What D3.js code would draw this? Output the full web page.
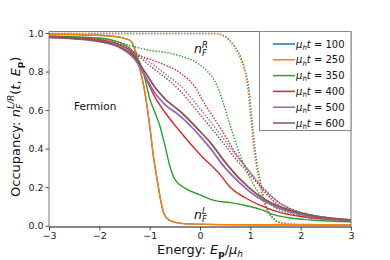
<!DOCTYPE html>
<html>
<head>
<meta charset="utf-8">
<script src="https://cdn.jsdelivr.net/npm/d3@7"></script>
<style>
  body { margin: 0; background: #fff; }
  svg { display: block; font-family: "DejaVu Sans", sans-serif; }
</style>
</head>
<body>
<div id="chart"></div>
<script>
// --- data: [energy E_p/mu_h, occupancy] ---
const xTicks = [-3, -2, -1, 0, 1, 2, 3];
const yTicks = [0.0, 0.2, 0.4, 0.6, 0.8, 1.0];
const times = [100, 250, 350, 400, 500, 600];
const colors = ["#1f77b4", "#ff7f0e", "#2ca02c", "#d62728", "#9467bd", "#8c564b"];

const left100 = [[-3,0.995],[-2.5,0.992],[-2,0.988],[-1.7,0.982],[-1.5,0.972],[-1.38,0.96],[-1.3,0.92],[-1.2,0.82],[-1.1,0.70],[-1.0,0.52],[-0.92,0.35],[-0.85,0.237],[-0.78,0.13],[-0.72,0.065],[-0.62,0.03],[-0.45,0.015],[-0.1,0.008],[1,0.005],[3,0.005]];
const right100 = [[-3,0.998],[0.3,0.997],[0.5,0.982],[0.6,0.96],[0.7,0.925],[0.8,0.88],[0.9,0.8],[0.97,0.71],[1.02,0.58],[1.07,0.45],[1.12,0.34],[1.19,0.24],[1.29,0.12],[1.42,0.05],[1.62,0.015],[2,0.006],[3,0.005]];
const left250 = [[-3,0.995],[-2.5,0.992],[-2,0.988],[-1.7,0.982],[-1.5,0.972],[-1.38,0.96],[-1.3,0.92],[-1.2,0.82],[-1.1,0.70],[-1.0,0.52],[-0.92,0.35],[-0.85,0.237],[-0.78,0.13],[-0.72,0.065],[-0.62,0.03],[-0.45,0.015],[-0.1,0.008],[1,0.005],[3,0.005]];
const right250 = [[-3,0.998],[0.3,0.997],[0.5,0.98],[0.6,0.955],[0.7,0.92],[0.8,0.87],[0.9,0.79],[0.95,0.71],[1.0,0.58],[1.05,0.45],[1.1,0.34],[1.17,0.24],[1.27,0.12],[1.4,0.05],[1.6,0.015],[2,0.006],[3,0.005]];
const left350 = [[-3,0.985],[-2.5,0.98],[-2,0.974],[-1.7,0.96],[-1.5,0.94],[-1.35,0.91],[-1.2,0.85],[-1.1,0.77],[-1.0,0.66],[-0.9,0.59],[-0.8,0.52],[-0.7,0.42],[-0.6,0.31],[-0.5,0.24],[-0.3,0.195],[0,0.16],[0.3,0.13],[0.6,0.12],[0.9,0.105],[1.2,0.085],[1.5,0.055],[1.8,0.04],[2.2,0.03],[3,0.02]];
const right350 = [[-3,0.985],[-2.5,0.98],[-2,0.972],[-1.6,0.95],[-1.32,0.93],[-1,0.91],[-0.7,0.9],[-0.38,0.88],[0,0.835],[0.15,0.8],[0.28,0.755],[0.38,0.7],[0.47,0.63],[0.6,0.52],[0.75,0.4],[0.9,0.3],[1.05,0.22],[1.2,0.16],[1.4,0.11],[1.7,0.07],[2,0.05],[2.5,0.033],[3,0.024]];
const left400 = [[-3,0.98],[-2.5,0.975],[-2,0.965],[-1.6,0.94],[-1.4,0.91],[-1.2,0.84],[-1.05,0.75],[-0.9,0.67],[-0.7,0.59],[-0.4,0.49],[0,0.37],[0.4,0.265],[0.6,0.2],[0.9,0.145],[1.2,0.105],[1.6,0.068],[2,0.048],[2.5,0.034],[3,0.025]];
const right400 = [[-3,0.98],[-2.5,0.977],[-2,0.968],[-1.5,0.93],[-1.25,0.89],[-0.8,0.845],[-0.38,0.79],[-0.1,0.72],[0.1,0.63],[0.4,0.51],[0.7,0.38],[1.0,0.275],[1.3,0.17],[1.6,0.1],[2,0.06],[2.5,0.038],[3,0.027]];
const left500 = [[-3,0.977],[-2.5,0.97],[-2,0.955],[-1.6,0.925],[-1.3,0.865],[-1.1,0.78],[-0.9,0.69],[-0.7,0.63],[-0.38,0.566],[0,0.465],[0.21,0.4],[0.5,0.3],[0.8,0.22],[1.1,0.155],[1.4,0.11],[1.8,0.07],[2.3,0.045],[3,0.028]];
const right500 = [[-3,0.978],[-2.5,0.974],[-2,0.963],[-1.5,0.93],[-1.2,0.885],[-0.9,0.83],[-0.6,0.77],[-0.38,0.725],[-0.15,0.655],[0.1,0.575],[0.4,0.475],[0.7,0.37],[1.0,0.275],[1.3,0.185],[1.6,0.115],[2,0.068],[2.5,0.042],[3,0.029]];
const left600 = [[-3,0.978],[-2.5,0.972],[-2,0.958],[-1.6,0.93],[-1.3,0.875],[-1.1,0.8],[-0.9,0.72],[-0.7,0.66],[-0.38,0.59],[0,0.49],[0.21,0.43],[0.5,0.33],[0.8,0.24],[1.1,0.17],[1.4,0.12],[1.8,0.08],[2.3,0.05],[3,0.03]];
const right600 = [[-3,0.978],[-2.5,0.973],[-2,0.96],[-1.5,0.925],[-1.2,0.875],[-0.95,0.82],[-0.6,0.75],[-0.38,0.695],[-0.15,0.625],[0.1,0.545],[0.4,0.45],[0.7,0.35],[1.0,0.26],[1.3,0.18],[1.6,0.115],[2,0.07],[2.5,0.044],[3,0.031]];

const leftSeries = [left100, left250, left350, left400, left500, left600];
const rightSeries = [right100, right250, right350, right400, right500, right600];

// --- layout ---
const W = 390, H = 260;
const box = { left: 49, right: 351, top: 31.5, bottom: 227 };

const svg = d3.select("#chart").append("svg")
    .attr("width", W).attr("height", H);

const x = d3.scaleLinear().domain([-3, 3]).range([box.left, box.right]);
const y = d3.scaleLinear().domain([-0.0067, 1.0078]).range([box.bottom, box.top]);

svg.append("defs").append("clipPath").attr("id", "clip")
    .append("rect").attr("x", box.left).attr("y", box.top)
    .attr("width", box.right - box.left).attr("height", box.bottom - box.top);

// write runs of mixed math text; a run with stack:true sits under the previous one
function addRuns(text, runs) {
    let cur = 0;
    runs.forEach(r => {
        const ts = text.append("tspan").text(r.t);
        if (r.it) ts.attr("font-style", "italic");
        if (r.b) ts.attr("font-weight", "bold");
        if (r.fs) ts.attr("font-size", r.fs);
        const off = r.off || 0;
        if (off !== cur) { ts.attr("dy", off - cur); cur = off; }
        r.node = ts;
    });
    runs.forEach((r, i) => {
        if (!r.stack) return;
        const l1 = runs[i - 1].node.node().getComputedTextLength();
        const l2 = r.node.node().getComputedTextLength();
        r.node.attr("dx", -l1);
        if (runs[i + 1]) runs[i + 1].node.attr("dx", Math.max(0, l1 - l2));
    });
}

// --- curves ---
const line = d3.line().x(d => x(d[0])).y(d => y(d[1])).curve(d3.curveMonotoneX);
const plot = svg.append("g").attr("clip-path", "url(#clip)");

times.forEach((t, i) => {
    const w = i >= 4 ? 1.8 : 1.4;
    plot.append("path").datum(leftSeries[i])
        .attr("d", line).attr("fill", "none")
        .attr("stroke", colors[i]).attr("stroke-width", w);
    plot.append("path").datum(rightSeries[i])
        .attr("d", line).attr("fill", "none")
        .attr("stroke", colors[i]).attr("stroke-width", 1.5)
        .attr("stroke-dasharray", "1.4,1.6");
});

// --- axes ---
const xAxis = svg.append("g")
    .attr("transform", `translate(0,${box.bottom})`)
    .call(d3.axisBottom(x).tickValues(xTicks).tickSize(3.5).tickPadding(2)
        .tickFormat(d => d < 0 ? "\u2212" + Math.abs(d) : d));
const yAxis = svg.append("g")
    .attr("transform", `translate(${box.left},0)`)
    .call(d3.axisLeft(y).tickValues(yTicks).tickSize(3.5).tickPadding(2)
        .tickFormat(d3.format(".1f")));

[xAxis, yAxis].forEach(a => {
    a.select(".domain").remove();
    a.selectAll("text").attr("font-size", 9.5).attr("fill", "#222")
        .attr("font-family", "DejaVu Sans");
    a.selectAll("line").attr("stroke", "#222").attr("stroke-width", 0.8);
});

// frame
svg.append("path")
    .attr("d", `M${box.left},${box.bottom}V${box.top}H${box.right}V${box.bottom}`)
    .attr("fill", "none").attr("stroke", "#777").attr("stroke-width", 1);
svg.append("line")
    .attr("x1", box.left).attr("x2", box.right)
    .attr("y1", box.bottom).attr("y2", box.bottom)
    .attr("stroke", "#111").attr("stroke-width", 1.2);

// --- legend ---
const legend = svg.append("g");
legend.append("rect")
    .attr("x", 259.5).attr("y", box.top).attr("width", box.right - 259.5).attr("height", 99)
    .attr("fill", "#fff").attr("fill-opacity", 0.85).attr("stroke", "#888").attr("stroke-width", 1);
times.forEach((t, i) => {
    const ly = 44 + i * 15.8;
    legend.append("line")
        .attr("x1", 273).attr("x2", 295).attr("y1", ly).attr("y2", ly)
        .attr("stroke", colors[i]).attr("stroke-width", 1.5);
    const txt = legend.append("text").attr("x", 296).attr("y", ly + 3.6)
        .attr("font-size", 10).attr("fill", "#111");
    addRuns(txt, [
        { t: "\u03bc", it: true },
        { t: "h", it: true, fs: 7, off: 2.2 },
        { t: "t", it: true, off: 0 },
        { t: " = " + t }
    ]);
});

// --- labels ---
const xl = svg.append("text").attr("x", 200).attr("y", 254)
    .attr("text-anchor", "middle").attr("font-size", 13).attr("fill", "#111");
addRuns(xl, [
    { t: "Energy: " },
    { t: "E", it: true },
    { t: "p", b: true, fs: 9, off: 3 },
    { t: "/", off: 0 },
    { t: "\u03bc", it: true },
    { t: "h", it: true, fs: 9, off: 3 }
]);

const yl = svg.append("text")
    .attr("transform", "translate(19.5,197) rotate(-90)")
    .attr("font-size", 13).attr("fill", "#111");
addRuns(yl, [
    { t: "Occupancy: " },
    { t: "n", it: true },
    { t: "L/R", it: true, fs: 9, off: -5.5 },
    { t: "F", it: true, fs: 9, off: 3, stack: true },
    { t: "(", off: 0 },
    { t: "t", it: true },
    { t: ", " },
    { t: "E", it: true },
    { t: "p", b: true, fs: 9, off: 3 },
    { t: ")", off: 0 }
]);

svg.append("text").attr("x", 74).attr("y", 110)
    .attr("font-size", 10.5).attr("fill", "#111").text("Fermion");

const nr = svg.append("text").attr("x", 194).attr("y", 53)
    .attr("font-size", 12.5).attr("fill", "#111");
addRuns(nr, [
    { t: "n", it: true },
    { t: "R", it: true, fs: 8.5, off: -5.5 },
    { t: "F", it: true, fs: 8.5, off: 3, stack: true }
]);

const nl = svg.append("text").attr("x", 194).attr("y", 219)
    .attr("font-size", 12.5).attr("fill", "#111");
addRuns(nl, [
    { t: "n", it: true },
    { t: "L", it: true, fs: 8.5, off: -5.5 },
    { t: "F", it: true, fs: 8.5, off: 3, stack: true }
]);
</script>
</body>
</html>
